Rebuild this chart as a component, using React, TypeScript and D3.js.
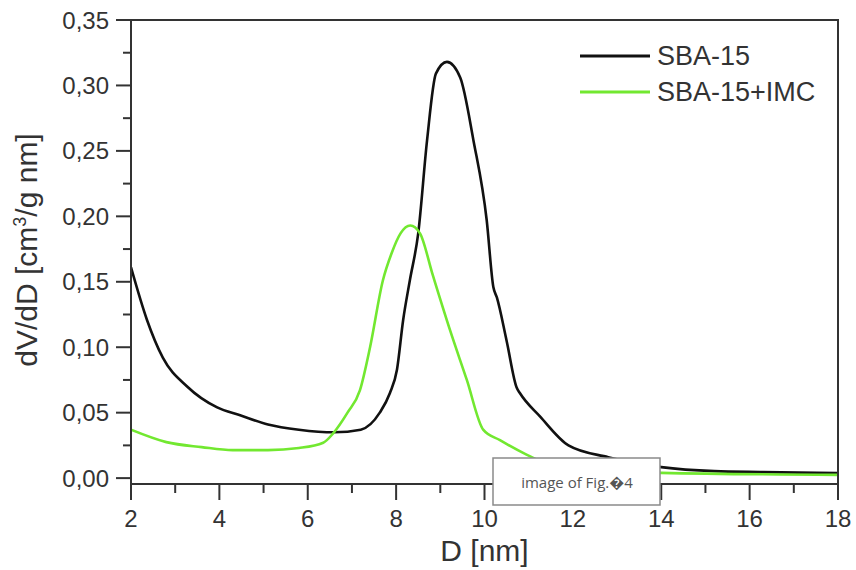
import React from "react";
import * as d3 from "d3";

const sbaD = [2.0, 2.36, 2.72, 3.27, 3.95, 4.47, 5.1, 5.8, 6.6, 7.2, 7.63, 7.86, 8.02, 8.16, 8.31, 8.5, 8.7, 8.9, 9.15, 9.45, 9.75, 10.05, 10.2, 10.28, 10.5, 10.73, 10.8, 11.26, 11.9, 12.8, 14.0, 15.2, 16.3, 18.0];
const sbaV = [0.161, 0.121, 0.092, 0.070, 0.054, 0.048, 0.041, 0.037, 0.035, 0.037, 0.050, 0.065, 0.083, 0.121, 0.151, 0.187, 0.258, 0.309, 0.318, 0.306, 0.258, 0.197, 0.146, 0.138, 0.105, 0.069, 0.065, 0.047, 0.025, 0.016, 0.0084, 0.0053, 0.0046, 0.0038];

const imcD = [2.0, 2.8, 3.6, 4.3, 5.1, 5.8, 6.35, 6.57, 6.9, 7.18, 7.41, 7.7, 7.9, 8.1, 8.32, 8.54, 8.83, 9.22, 9.6, 9.97, 10.35, 10.95, 11.7, 14.0, 18.0];
const imcV = [0.037, 0.0275, 0.0237, 0.0214, 0.0214, 0.023, 0.027, 0.034, 0.050, 0.067, 0.100, 0.151, 0.172, 0.187, 0.193, 0.187, 0.155, 0.113, 0.075, 0.037, 0.029, 0.018, 0.0076, 0.004, 0.0025];

const xTicks = [2, 4, 6, 8, 10, 12, 14, 16, 18];
const xMinor = [3, 5, 7, 9, 11, 13, 15, 17];
const yTicks = [0, 0.05, 0.1, 0.15, 0.2, 0.25, 0.3, 0.35];
const yMinor = [0.025, 0.075, 0.125, 0.175, 0.225, 0.275, 0.325];

const seriesNames = ["SBA-15", "SBA-15+IMC"];
const seriesColors = ["#111111", "#72e830"];

export default function App() {
  const W = 856, H = 570;
  const left = 131, right = 838, top = 20, bottom = 484;
  const x = d3.scaleLinear().domain([2, 18]).range([left, right]);
  const y = d3.scaleLinear().domain([-0.0045, 0.35]).range([bottom, top]);
  const line = d3.line<[number, number]>().x(d => x(d[0])).y(d => y(d[1])).curve(d3.curveMonotoneX);
  const sba = sbaD.map((d, i) => [d, sbaV[i]] as [number, number]);
  const imc = imcD.map((d, i) => [d, imcV[i]] as [number, number]);
  const fmt = (v: number) => v.toFixed(2).replace(".", ",");
  const font = "'Liberation Sans', Arial, sans-serif";
  const axisCol = "#333";
  return (
    <svg width={W} height={H} style={{ position: "absolute", left: 0, top: 0, background: "#fff" }}>
      <rect x={0} y={0} width={W} height={H} fill="#fff" />
      <defs>
        <clipPath id="plot"><rect x={left} y={top} width={right - left} height={bottom - top} /></clipPath>
      </defs>
      <g clipPath="url(#plot)">
        <path d={line(sba) || ""} fill="none" stroke={seriesColors[0]} strokeWidth={2.6} strokeLinejoin="round" />
        <path d={line(imc) || ""} fill="none" stroke={seriesColors[1]} strokeWidth={2.6} strokeLinejoin="round" />
      </g>
      <rect x={left} y={top} width={right - left} height={bottom - top} fill="none" stroke={axisCol} strokeWidth={2} />
      {xTicks.map(t => (
        <g key={"xt" + t}>
          <line x1={x(t)} x2={x(t)} y1={bottom} y2={bottom + 16} stroke={axisCol} strokeWidth={2} />
          <text x={x(t)} y={bottom + 43} textAnchor="middle" fontFamily={font} fontSize={24} fill="#333">{t}</text>
        </g>
      ))}
      {xMinor.map(t => (
        <line key={"xm" + t} x1={x(t)} x2={x(t)} y1={bottom} y2={bottom + 9} stroke={axisCol} strokeWidth={2} />
      ))}
      {yTicks.map(t => (
        <g key={"yt" + t}>
          <line x1={left - 15} x2={left} y1={y(t)} y2={y(t)} stroke={axisCol} strokeWidth={2} />
          <text x={left - 22} y={y(t) + 8.5} textAnchor="end" fontFamily={font} fontSize={24} fill="#333">{fmt(t)}</text>
        </g>
      ))}
      {yMinor.map(t => (
        <line key={"ym" + t} x1={left - 8} x2={left} y1={y(t)} y2={y(t)} stroke={axisCol} strokeWidth={2} />
      ))}
      <text x={(left + right) / 2} y={561} textAnchor="middle" fontFamily={font} fontSize={30} fill="#333">D [nm]</text>
      <text transform={`translate(37, 250) rotate(-90)`} textAnchor="middle" fontFamily={font} fontSize={30} fill="#333">
        dV/dD [cm<tspan dy={-11} fontSize={18}>3</tspan><tspan dy={11}>/g nm]</tspan>
      </text>
      {seriesNames.map((n, i) => (
        <g key={n}>
          <line x1={580} x2={650} y1={56 + i * 36} y2={56 + i * 36} stroke={seriesColors[i]} strokeWidth={3} />
          <text x={657} y={65 + i * 36} fontFamily={font} fontSize={27} fill="#333">{n}</text>
        </g>
      ))}
      <rect x={493} y={458} width={167} height={47} fill="#fff" stroke="#8a8a8a" strokeWidth={1.5} />
      <text x={577} y={488} textAnchor="middle" fontFamily="'Open Sans', 'Noto Sans', sans-serif" fontSize={15} fill="#555">image of Fig.{"\uFFFD"}4</text>
    </svg>
  );
}
